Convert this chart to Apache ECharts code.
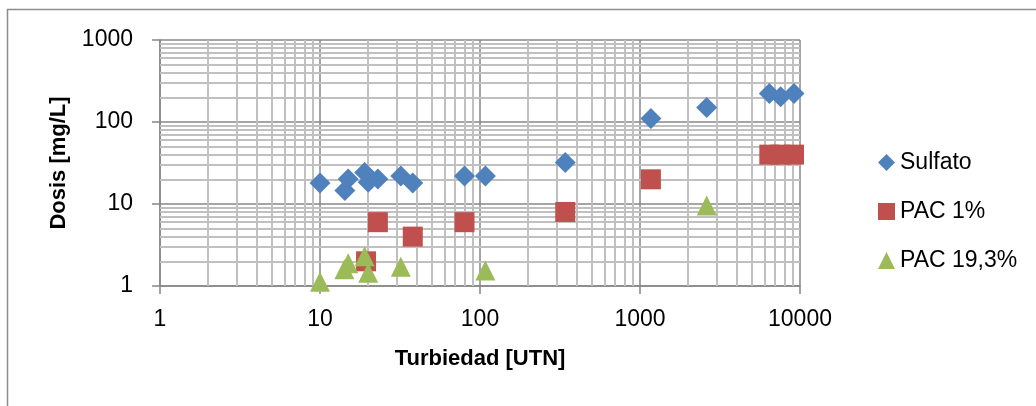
<!DOCTYPE html>
<html>
<head>
<meta charset="utf-8">
<script src="https://cdn.jsdelivr.net/npm/echarts@6/dist/echarts.min.js"></script>
<style>
  html, body { margin: 0; padding: 0; background: #fff; }
  #chart { width: 1036px; height: 406px; }
</style>
</head>
<body>
<div id="chart"></div>
<script>
// data (x = turbiedad, y = dosis)
const sulfatoX = [10, 14.3, 15, 19, 20, 23, 32, 38, 80, 108, 341, 1170, 2610, 6430, 7570, 9170];
const sulfatoY = [18, 14.6, 20.2, 24.3, 18.4, 20.2, 22, 18, 22, 22, 32, 110, 150, 222, 203, 222];
const pac1X = [19.4, 23, 38, 80, 341, 1170, 6430, 7570, 9170];
const pac1Y = [2, 6, 4, 6, 8, 20, 40, 40, 40];
const pac19X = [10, 14.2, 15, 19, 20, 32, 108, 2610];
const pac19Y = [1.13, 1.6, 1.9, 2.3, 1.45, 1.72, 1.55, 9.6];

const xTicks = [1, 10, 100, 1000, 10000];
const yTicks = [1, 10, 100, 1000];

const colors = ["#4F81BD", "#C0504D", "#9BBB59"];
const font = "Liberation Sans";

// minor gridlines 2..9 inside each decade
function minors(ticks) {
  const out = [];
  for (let i = 0; i < ticks.length - 1; i++) {
    for (let k = 2; k <= 9; k++) out.push(ticks[i] * k);
  }
  return out;
}
const pairs = (xs, ys) => xs.map((x, i) => [x, ys[i]]);

const chart = echarts.init(document.getElementById("chart"), null, { renderer: "canvas" });

const axisCommon = {
  type: "log",
  logBase: 10,
  axisLine: { show: true, lineStyle: { color: "#878787", width: 1.5 } },
  axisTick: { show: true, length: 8, lineStyle: { color: "#878787", width: 1.5 } },
  splitLine: { show: true, lineStyle: { color: "#878787", width: 1.5 } },
  axisLabel: {
    fontFamily: font,
    fontSize: 23,
    color: "#000",
    formatter: (v) => String(Math.round(v)),
  },
  nameLocation: "middle",
  nameTextStyle: { fontFamily: font, fontSize: 22, fontWeight: "bold", color: "#000" },
};

const option = {
  animation: false,
  backgroundColor: "#fff",
  color: colors,
  graphic: [
    {
      type: "rect",
      shape: { x: 7.5, y: 9.5, width: 1040, height: 410 },
      style: { fill: "none", stroke: "#8c8c8c", lineWidth: 1.5 },
      silent: true,
    },
  ],
  grid: { left: 160, right: 236, top: 40, bottom: 120 },
  legend: {
    data: ["Sulfato", "PAC 1%", "PAC 19,3%"],
    orient: "vertical",
    left: 873,
    top: 146,
    itemWidth: 17,
    itemHeight: 17,
    itemGap: 26,
    textStyle: { fontFamily: font, fontSize: 23, color: "#000", lineHeight: 22 },
  },
  xAxis: Object.assign({}, axisCommon, {
    min: xTicks[0],
    max: xTicks[xTicks.length - 1],
    name: "Turbiedad [UTN]",
    nameGap: 62,
    axisLabel: Object.assign({}, axisCommon.axisLabel, { margin: 22 }),
  }),
  yAxis: Object.assign({}, axisCommon, {
    min: yTicks[0],
    max: yTicks[yTicks.length - 1],
    name: "Dosis [mg/L]",
    nameGap: 90,
    axisLabel: Object.assign({}, axisCommon.axisLabel, { margin: 27 }),
  }),
  series: [
    {
      name: "grid",
      type: "line",
      data: [],
      z: 1,
      silent: true,
      markLine: {
        silent: true,
        z: 1,
        symbol: ["none", "none"],
        label: { show: false },
        lineStyle: { color: "#c0c0c0", width: 2, type: "solid" },
        data: minors(xTicks).map((v) => ({ xAxis: v }))
          .concat(minors(yTicks).map((v) => ({ yAxis: v }))),
      },
    },
    {
      name: "Sulfato",
      type: "scatter",
      symbol: "diamond",
      symbolSize: [21, 21],
      z: 3,
      itemStyle: { color: colors[0], opacity: 1 },
      data: pairs(sulfatoX, sulfatoY),
    },
    {
      name: "PAC 1%",
      type: "scatter",
      symbol: "rect",
      symbolSize: 20,
      z: 3,
      itemStyle: { color: colors[1], opacity: 1 },
      data: pairs(pac1X, pac1Y),
    },
    {
      name: "PAC 19,3%",
      type: "scatter",
      symbol: "triangle",
      symbolSize: 20,
      z: 3,
      itemStyle: { color: colors[2], opacity: 1 },
      data: pairs(pac19X, pac19Y),
    },
  ],
};

chart.setOption(option);
</script>
</body>
</html>
